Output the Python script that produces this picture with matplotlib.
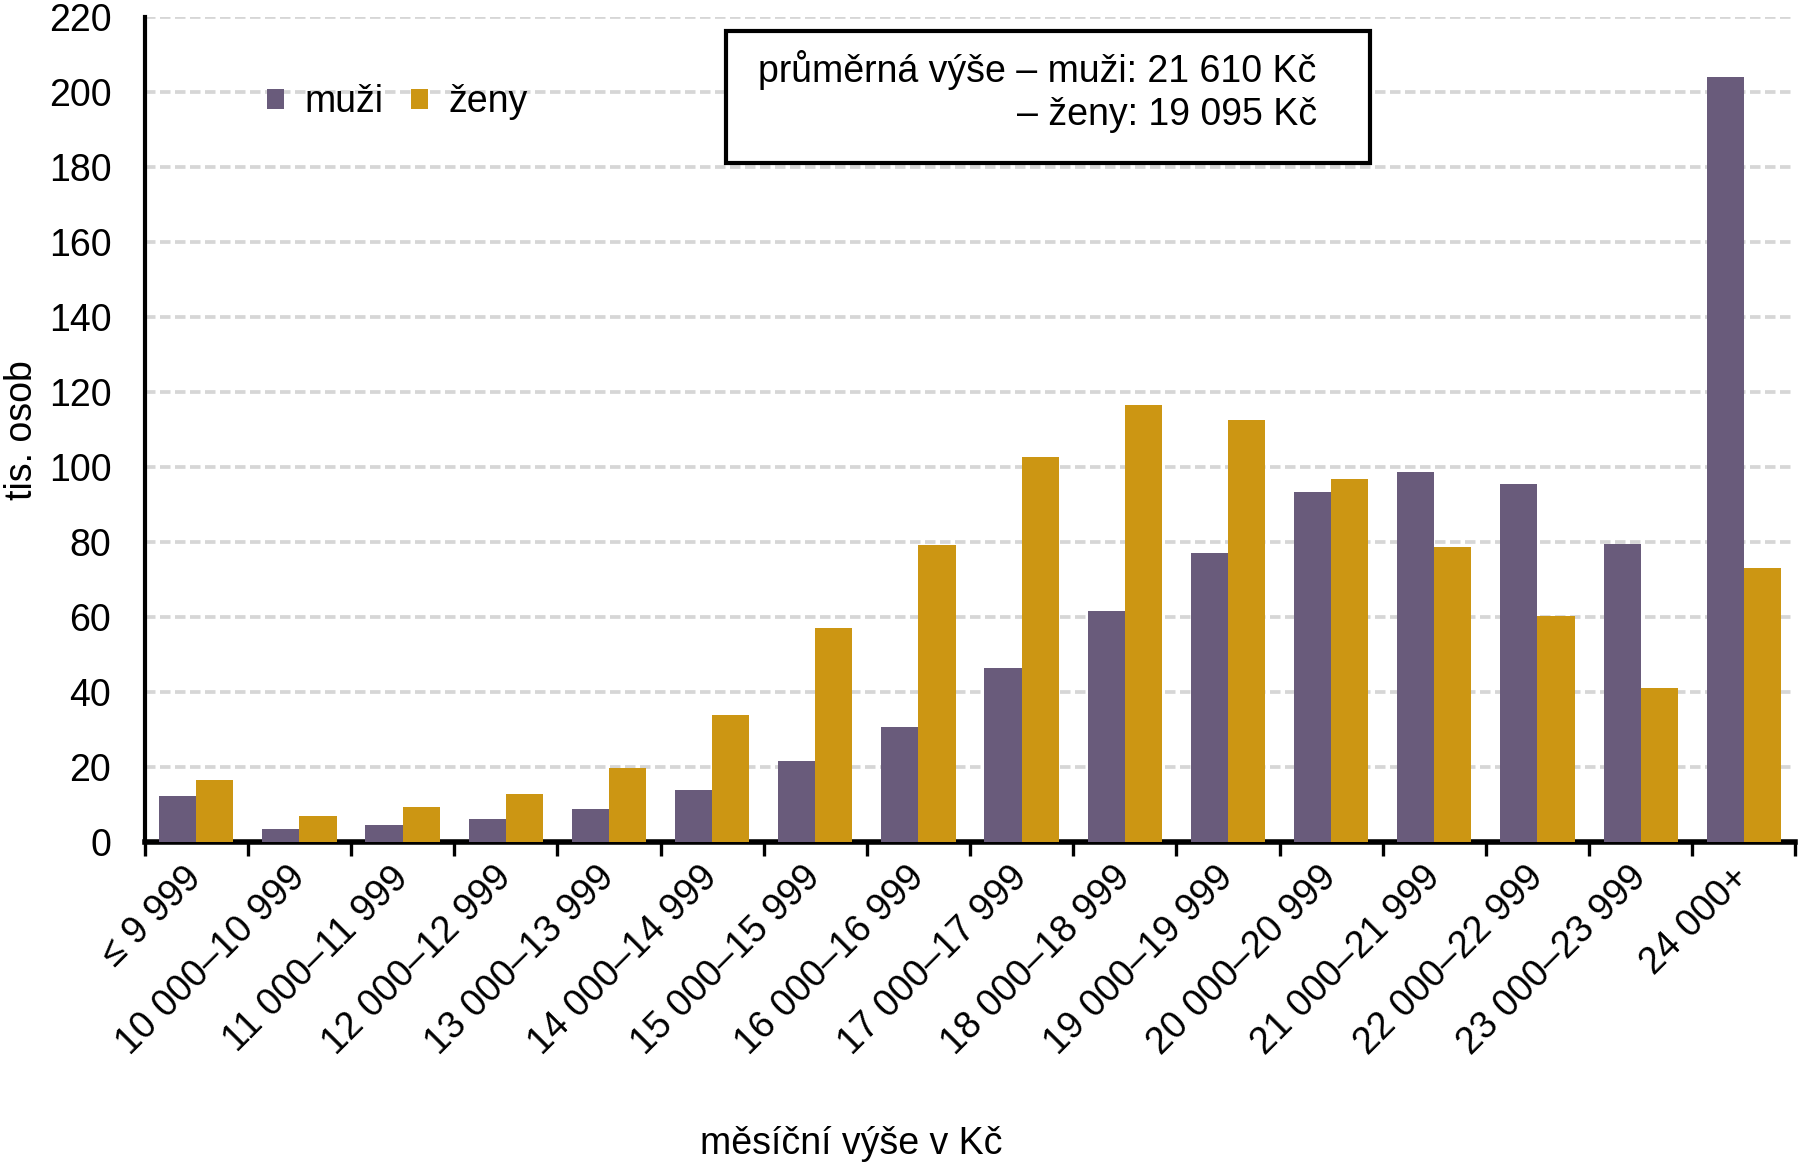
import matplotlib
matplotlib.use("Agg")
import matplotlib.pyplot as plt
import numpy as np
from matplotlib.patches import Rectangle

plt.rcParams['font.family'] = ['Liberation Sans', 'DejaVu Sans']

categories = ['≤ 9 999', '10 000–10 999', '11 000–11 999', '12 000–12 999',
              '13 000–13 999', '14 000–14 999', '15 000–15 999', '16 000–16 999',
              '17 000–17 999', '18 000–18 999', '19 000–19 999', '20 000–20 999',
              '21 000–21 999', '22 000–22 999', '23 000–23 999', '24 000+']
muzi = [12.2, 3.5, 4.4, 6.1, 8.8, 13.8, 21.7, 30.8, 46.5, 61.7, 77.2, 93.3, 98.6, 95.5, 79.6, 204.2]
zeny = [16.4, 6.8, 9.2, 12.7, 19.6, 34.0, 57.0, 79.3, 102.7, 116.5, 112.7, 96.9, 78.7, 60.3, 41.0, 73.2]

c_muzi = '#695b7b'
c_zeny = '#cc9613'
fs = 27

fig = plt.figure(figsize=(17.99, 11.65), dpi=100)
ax = fig.add_axes([0.0804, 0.2773, 0.9176, 0.7077])

x = np.arange(len(categories))
w = 0.36
ax.bar(x - w/2, muzi, w, color=c_muzi, label='muži', zorder=3)
ax.bar(x + w/2, zeny, w, color=c_zeny, label='ženy', zorder=3)

ax.set_xlim(-0.5, len(categories) - 0.5)
ax.set_ylim(0, 220)
ax.set_yticks(range(0, 221, 20))
ax.yaxis.grid(True, color='#d6d6d6', linewidth=2.7, linestyle=(0, (2.8, 1.2)), zorder=0)
ax.set_axisbelow(True)

ax.set_xticks(x)
ax.set_xticklabels(categories, rotation=45, ha='right', va='center', rotation_mode='anchor')
ax.set_xticks(np.arange(-0.5, len(categories)), minor=True)
ax.tick_params(axis='x', which='major', length=0, pad=22, labelsize=fs)
ax.tick_params(axis='x', which='minor', length=10, width=2.4, direction='out')
ax.tick_params(axis='y', length=0, pad=24, labelsize=fs)

for s in ['top', 'right']:
    ax.spines[s].set_visible(False)
ax.spines['left'].set_linewidth(3)
ax.spines['bottom'].set_linewidth(4)

leg = ax.legend(loc='center left', bbox_to_anchor=(0.063, 0.897), ncol=2, frameon=False,
                fontsize=fs, handlelength=0.45, handleheight=0.45,
                handletextpad=0.55, columnspacing=0.72, borderpad=0)

ax.add_patch(Rectangle((0.352, 0.823), 0.39, 0.16, transform=ax.transAxes,
                       facecolor='white', edgecolor='black', linewidth=3, zorder=5))
ax.text(0.710, 0.936, 'průměrná výše – muži: 21 610 Kč', transform=ax.transAxes,
        ha='right', va='center', fontsize=fs, zorder=6)
ax.text(0.710, 0.882, '– ženy: 19 095 Kč', transform=ax.transAxes,
        ha='right', va='center', fontsize=fs, zorder=6)

fig.text(0.473, 0.018, 'měsíční výše v Kč', ha='center', va='center', fontsize=fs)
fig.text(0.012, 0.631, 'tis. osob', ha='center', va='center', rotation=90, fontsize=fs)

fig.savefig('out.png', dpi=100)
